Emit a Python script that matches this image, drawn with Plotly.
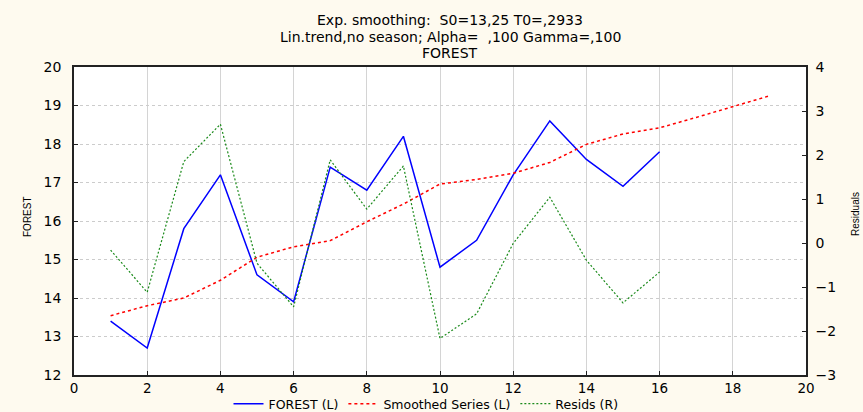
import plotly.graph_objects as go

t_obs = list(range(1, 17))
t_smooth = list(range(1, 20))
forest = [13.4, 12.7, 15.8, 17.2, 14.6, 13.9, 17.4, 16.8, 18.2, 14.8, 15.5, 17.2, 18.6, 17.6, 16.9, 17.8]
smoothed = [13.54, 13.80, 14.00, 14.46, 15.06, 15.33, 15.49, 15.98, 16.44, 16.96,
            17.08, 17.24, 17.52, 17.99, 18.26, 18.42, 18.69, 18.97, 19.25]
resids = [-0.16, -1.12, 1.85, 2.70, -0.46, -1.45, 1.89, 0.77, 1.75, -2.17,
          -1.61, -0.01, 1.04, -0.39, -1.36, -0.66]

title_lines = ["Exp. smoothing:\u00a0\u00a0S0=13,25 T0=,2933",
               "Lin.trend,no season; Alpha=\u00a0\u00a0,100 Gamma=,100",
               "FOREST"]
left_title = "FOREST"
right_title = "Residuals"

font = "DejaVu Sans, Arial, sans-serif"
bg = "#FEFAEF"

W, H = 863, 412
L, R, T, B = 74, 57, 67, 37
PW, PH = W - L - R, H - T - B


def px_x(xp):
    return (xp - L) / PW


def px_y(yp):
    return (H - B - yp) / PH


fig = go.Figure()
fig.add_trace(go.Scatter(x=t_obs, y=forest, mode="lines", name="FOREST (L)",
                         line=dict(color="#0000FF", width=1.5)))
fig.add_trace(go.Scatter(x=t_smooth, y=smoothed, mode="lines", name="Smoothed Series (L)",
                         line=dict(color="#FF0000", width=1.5, dash="dot")))
fig.add_trace(go.Scatter(x=t_obs, y=resids, mode="lines", name="Resids (R)", yaxis="y2",
                         line=dict(color="#1A8A1A", width=1.2, dash="2px,2px")))

annotations = []
for txt, yp in zip(title_lines, [20, 37, 53]):
    annotations.append(dict(text=txt, xref="paper", yref="paper", x=px_x(450), y=px_y(yp),
                            xanchor="center", yanchor="middle", showarrow=False,
                            font=dict(family=font, size=14, color="black")))
annotations.append(dict(text=left_title, xref="paper", yref="paper", x=px_x(27), y=px_y(217),
                        xanchor="center", yanchor="middle", showarrow=False, textangle=-90,
                        font=dict(family="Liberation Sans, Arial, sans-serif", size=10, color="black")))
annotations.append(dict(text=right_title, xref="paper", yref="paper", x=px_x(855), y=px_y(214),
                        xanchor="center", yanchor="middle", showarrow=False, textangle=-90,
                        font=dict(family="Liberation Sans, Arial, sans-serif", size=10, color="black")))

fig.update_layout(
    width=W, height=H,
    paper_bgcolor=bg, plot_bgcolor="white",
    margin=dict(l=L, r=R, t=T, b=B, autoexpand=False),
    font=dict(family=font, size=14, color="black"),
    showlegend=True,
    annotations=annotations,
    legend=dict(orientation="h", x=px_x(426), xanchor="center", y=px_y(404), yanchor="middle",
                bgcolor="rgba(0,0,0,0)", font=dict(size=12.5), itemwidth=30,
                tracegroupgap=0),
    xaxis=dict(range=[0, 20], dtick=2, tick0=0, showline=True, linecolor="#222222", linewidth=1.5,
               mirror=True, ticks="inside", ticklen=4, tickcolor="#222222",
               showgrid=True, gridcolor="#D4D4D4", gridwidth=1, griddash="solid", zeroline=False,
               ticklabelstandoff=0, automargin=False, tickfont=dict(size=13.5)),
    yaxis=dict(range=[12, 20], dtick=1, showline=True, linecolor="#222222", linewidth=1.5,
               ticks="inside", ticklen=4, tickcolor="#222222",
               showgrid=True, gridcolor="#CCCCCC", gridwidth=1, griddash="dot", zeroline=False,
               ticklabelstandoff=8, automargin=False),
    yaxis2=dict(range=[-3, 4], dtick=1, overlaying="y", side="right", showline=True,
                linecolor="#222222", linewidth=1.5, ticks="inside", ticklen=4, tickcolor="#222222",
                showgrid=False, zeroline=False, ticklabelstandoff=5, automargin=False),
)

fig.write_html("out.html", config={"displayModeBar": False},
               post_script="document.body.style.margin='0';")
